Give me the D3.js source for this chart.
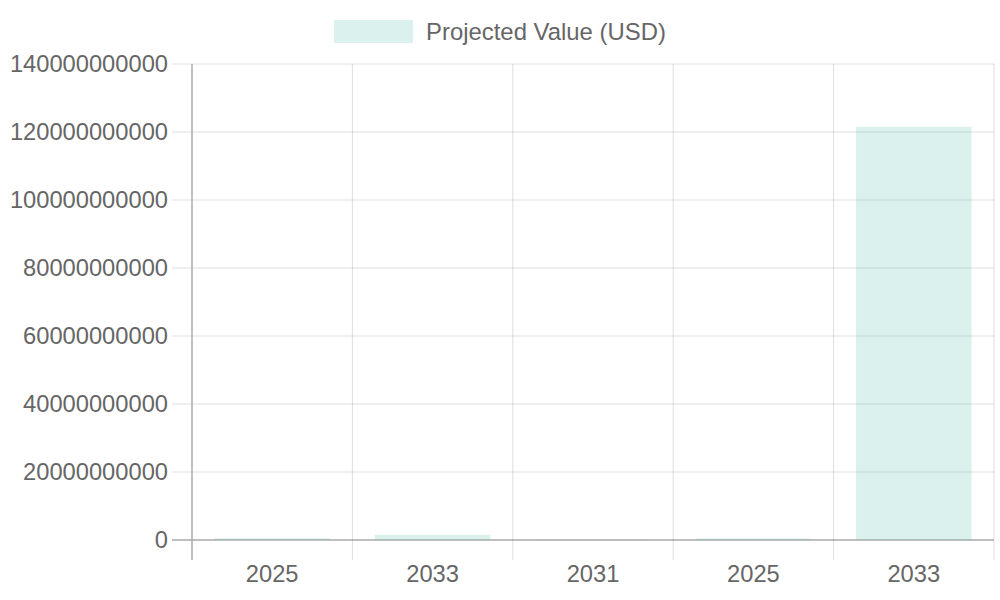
<!DOCTYPE html>
<html>
<head>
<meta charset="utf-8">
<script src="https://cdn.jsdelivr.net/npm/d3@7"></script>
<style>
  body { margin: 0; background: #fff; }
  text { font-family: "Liberation Sans", Arial, sans-serif; fill: #666; }
</style>
</head>
<body>
<svg id="chart" width="1000" height="600"></svg>
<script>
// chart data
const years = ['2025', '2033', '2031', '2025', '2033'];
const projectedValues = [0.5e9, 1.5e9, 0.05e9, 0.4e9, 121.5e9];
const yTicks = [0, 20e9, 40e9, 60e9, 80e9, 100e9, 120e9, 140e9];
const seriesLabel = 'Projected Value (USD)';

const svg = d3.select('#chart');
const plotLeft = 192, plotRight = 994, plotTop = 64, plotBottom = 540;
const fill = 'rgba(60,180,165,0.19)';
const gridColor = 'rgba(0,0,0,0.13)';
const axisColor = '#aaa';

const x = d3.scaleBand().domain(d3.range(years.length)).range([plotLeft, plotRight]);
const y = d3.scaleLinear().domain([0, 140e9]).range([plotBottom, plotTop]);

// horizontal grid lines + tick marks
svg.append('g').selectAll('line').data(yTicks).join('line')
  .attr('x1', plotLeft - 20).attr('x2', plotRight)
  .attr('y1', d => y(d)).attr('y2', d => y(d))
  .attr('stroke', d => d === 0 ? axisColor : gridColor)
  .attr('stroke-width', d => d === 0 ? 1.5 : 1);

// vertical grid lines at band edges
const edges = d3.range(years.length + 1).map(i => plotLeft + i * x.step());
svg.append('g').selectAll('line').data(edges).join('line')
  .attr('x1', d => d).attr('x2', d => d)
  .attr('y1', plotTop).attr('y2', plotBottom + 20)
  .attr('stroke', (d, i) => i === 0 ? axisColor : gridColor)
  .attr('stroke-width', (d, i) => i === 0 ? 1.5 : 1);

// bars
const barW = x.bandwidth() * 0.72;
svg.append('g').selectAll('rect').data(projectedValues).join('rect')
  .attr('x', (d, i) => x(i) + (x.bandwidth() - barW) / 2)
  .attr('width', barW)
  .attr('y', d => y(d))
  .attr('height', d => y(0) - y(d))
  .attr('fill', fill);

// y tick labels
svg.append('g').selectAll('text').data(yTicks).join('text')
  .attr('x', plotLeft - 24).attr('y', d => y(d))
  .attr('dy', '0.35em')
  .attr('text-anchor', 'end')
  .attr('font-size', 23.7)
  .text(d => d3.format('d')(d));

// x tick labels
svg.append('g').selectAll('text').data(years).join('text')
  .attr('x', (d, i) => x(i) + x.bandwidth() / 2)
  .attr('y', 582)
  .attr('text-anchor', 'middle')
  .attr('font-size', 23.7)
  .text(d => d);

// legend
const legend = svg.append('g');
legend.append('rect')
  .attr('x', 334).attr('y', 20).attr('width', 79).attr('height', 23)
  .attr('fill', fill);
legend.append('text')
  .attr('x', 426).attr('y', 32).attr('dy', '0.35em')
  .attr('font-size', 23.9)
  .text(seriesLabel);
</script>
</body>
</html>
